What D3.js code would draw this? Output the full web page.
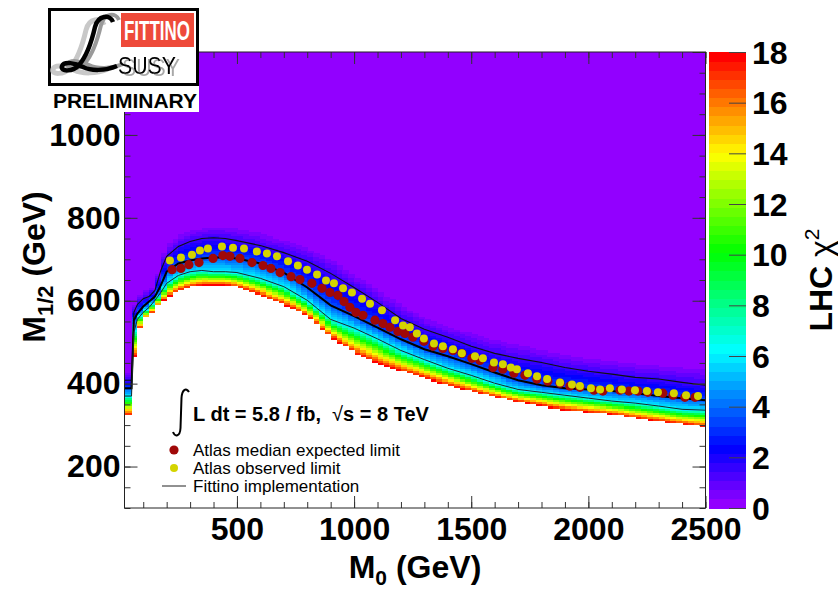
<!DOCTYPE html>
<html>
<head>
<meta charset="utf-8">
<title>LHC chi2 in the M0 - M1/2 plane</title>
<script src="https://cdn.jsdelivr.net/npm/d3@7"></script>
<style>
    body { margin: 0; background: white; }
    text { font-family: "Liberation Sans", Arial, Helvetica, sans-serif; }
</style>
</head>
<body>
<div id="chart"></div>
<script>
const m0Cols    = [20, 50, 60, 75, 100, 125, 150, 175, 200, 250, 300, 350, 400, 450, 500, 600, 700, 800, 900, 1000, 1100, 1200, 1300, 1400, 1500, 1600, 1700, 1800, 1900, 2000, 2100, 2200, 2300, 2400, 2500];
// M1/2 (GeV) where the chi2 crosses each level, one value per column
const hazeEdge  = [427, 427, 586, 605, 620, 625, 639, 692, 733, 755, 767, 774, 776, 776, 772, 762, 745, 726, 697, 661, 625, 589, 557, 538, 521, 504, 492, 480, 471, 461, 454, 447, 442, 437, 432];
const upperLine = [408, 408, 572, 591, 605, 610, 625, 673, 707, 731, 743, 750, 752, 750, 745, 733, 716, 695, 666, 632, 596, 557, 531, 512, 490, 473, 461, 451, 439, 430, 423, 415, 411, 403, 396];
const thickLine = [389, 389, 553, 569, 586, 598, 610, 637, 670, 690, 697, 702, 704, 704, 702, 690, 668, 632, 589, 563, 535, 507, 483, 466, 447, 427, 408, 396, 389, 386, 382, 377, 370, 365, 360];
const lowerLine = [370, 370, 524, 555, 572, 584, 601, 620, 642, 661, 670, 673, 670, 670, 668, 654, 634, 601, 555, 534, 508, 480, 458, 437, 420, 401, 386, 379, 372, 365, 358, 353, 346, 338, 336];
const redEdge   = [324, 324, 456, 516, 553, 562, 579, 596, 608, 622, 632, 637, 637, 637, 632, 613, 591, 562, 512, 473, 449, 430, 413, 396, 382, 367, 355, 346, 336, 331, 326, 317, 309, 302, 295];
const chiLevels = [0.36, 1.5, 3.5, 6, 18];

// Atlas median expected limit
const expM0  = [223, 261, 295, 338, 398, 440, 470, 513, 564, 611, 645, 684, 731, 769, 820, 863, 897, 931, 957, 982, 1008, 1038, 1089, 1123, 1153, 1187, 1217, 1251, 1298, 1337, 1379, 1422, 1460, 1503, 1537, 1593, 1635, 1682, 1729, 1780, 1827, 1879, 1921, 1964, 2024, 2062, 2135, 2173, 2212, 2254, 2318, 2361, 2412, 2455];
const expM12 = [675, 678, 687, 692, 702, 709, 707, 702, 692, 685, 678, 668, 658, 651, 642, 630, 620, 613, 598, 584, 572, 565, 553, 545, 536, 526, 521, 512, 502, 490, 485, 480, 473, 461, 456, 439, 435, 425, 420, 411, 406, 401, 394, 391, 384, 382, 384, 382, 382, 379, 377, 372, 367, 367];
// Atlas observed limit
const obsM0  = [214, 261, 308, 342, 376, 436, 483, 530, 585, 628, 671, 718, 760, 799, 842, 880, 914, 953, 991, 1034, 1068, 1119, 1175, 1209, 1238, 1268, 1298, 1341, 1379, 1422, 1460, 1516, 1550, 1597, 1635, 1669, 1695, 1742, 1781, 1824, 1879, 1930, 1964, 2011, 2050, 2092, 2143, 2199, 2250, 2297, 2365, 2417, 2468];
const obsM12 = [697, 704, 711, 721, 726, 731, 728, 726, 719, 714, 707, 695, 685, 675, 663, 649, 642, 630, 620, 605, 593, 577, 553, 540, 536, 521, 509, 497, 490, 483, 473, 466, 461, 451, 447, 439, 435, 425, 418, 411, 403, 398, 394, 389, 386, 389, 386, 384, 382, 379, 377, 372, 370];

const xTicks = [500, 1000, 1500, 2000, 2500];
const yTicks = [200, 400, 600, 800, 1000];
const zTicks = [0, 2, 4, 6, 8, 10, 12, 14, 16, 18];

const width = 838, height = 591;

const svg = d3.select("#chart")
    .append("svg")
    .attr("width", width)
    .attr("height", height);

const x = d3.scaleLinear().domain([20, 2500]).range([124.5, 705.5]);
const y = d3.scaleLinear().domain([100, 1200]).range([508, 52]);
const z = d3.scaleLinear().domain([0, 18]).range([508, 52]);

// ROOT "pretty" palette: 50 colours from violet to red
const nCol = 50;
const palette = d3.range(nCol).map(i => d3.hsl(280 - (i + 1) * 280 / nCol, 1, 0.5).formatHex());
const colorOf = v => palette[Math.max(0, Math.min(nCol - 1, Math.floor(v / 18 * nCol)))];

// plot background = chi2 ~ 0
svg.append("rect")
    .attr("x", x(20)).attr("y", y(1200))
    .attr("width", x(2500) - x(20)).attr("height", y(100) - y(1200))
    .attr("fill", palette[0]);

// build histogram cells from the band edges
const edgeScales = [hazeEdge, upperLine, thickLine, lowerLine, redEdge]
    .map(arr => d3.scaleLinear().domain(m0Cols).range(arr));
const binW = 25, binH = 5;
const cells = [];
const whites = [];
for (let a = 0; a < 2500; a += binW) {
    const c = Math.max(a + binW / 2, 20);
    const chi = d3.scaleLinear().domain(edgeScales.map(s => s(c))).range(chiLevels);
    let top = 100;
    for (let m = 1200 - binH; m >= 100; m -= binH) {
        const v = chi(m + binH / 2);
        if (v >= 18) { top = m + binH; break; }
        if (v >= chiLevels[0]) cells.push({a: a, m: m, v: v});
    }
    whites.push({a: a, top: top});
}

const colX = a => x(Math.max(a, 20));
const colW = a => x(a + binW) - colX(a) + 0.6;

const cellLayer = svg.append("g").attr("shape-rendering", "crispEdges");

cellLayer.append("g").selectAll("rect")
    .data(cells)
    .enter().append("rect")
    .attr("x", d => colX(d.a))
    .attr("y", d => y(d.m + binH))
    .attr("width", d => colW(d.a))
    .attr("height", y(100) - y(100 + binH) + 0.6)
    .attr("fill", d => colorOf(d.v));

cellLayer.append("g").selectAll("rect")
    .data(whites)
    .enter().append("rect")
    .attr("x", d => colX(d.a))
    .attr("y", d => y(d.top))
    .attr("width", d => colW(d.a))
    .attr("height", d => y(100) - y(d.top) + 1)
    .attr("fill", "white");

// Fittino contour lines
const contour = arr => d3.line()
    .x((d, i) => x(m0Cols[i]))
    .y(d => y(d))(arr);

svg.append("path").attr("d", contour(upperLine))
    .attr("fill", "none").attr("stroke", "#111").attr("stroke-width", 1.1);
svg.append("path").attr("d", contour(thickLine))
    .attr("fill", "none").attr("stroke", "#000").attr("stroke-width", 2);
svg.append("path").attr("d", contour(lowerLine))
    .attr("fill", "none").attr("stroke", "#1a2a2a").attr("stroke-width", 1);

// Atlas limits
svg.append("g").selectAll("circle")
    .data(expM0)
    .enter().append("circle")
    .attr("cx", d => x(d))
    .attr("cy", (d, i) => y(expM12[i]))
    .attr("r", 4.6)
    .attr("fill", "#a00808");

svg.append("g").selectAll("circle")
    .data(obsM0)
    .enter().append("circle")
    .attr("cx", d => x(d))
    .attr("cy", (d, i) => y(obsM12[i]))
    .attr("r", 4)
    .attr("fill", "#d4d400");

// axes: ticks pointing inwards like ROOT
const axisFont = g => g.selectAll("text")
    .style("font-size", "32px")
    .style("font-weight", "bold")
    .attr("fill", "black");

svg.append("g")
    .attr("transform", "translate(0,508)")
    .call(d3.axisBottom(x).tickValues(x.ticks(25)).tickSize(-6).tickSizeOuter(0).tickFormat(""))
    .call(g => g.select(".domain").remove());
svg.append("g")
    .attr("transform", "translate(0,508)")
    .call(d3.axisBottom(x).tickValues(xTicks).tickSize(-12).tickSizeOuter(0).tickPadding(9).tickFormat(d3.format("d")))
    .call(g => g.select(".domain").remove())
    .call(axisFont);

svg.append("g")
    .attr("transform", "translate(124.5,0)")
    .call(d3.axisLeft(y).tickValues(y.ticks(22)).tickSize(-6).tickSizeOuter(0).tickFormat(""))
    .call(g => g.select(".domain").remove());
svg.append("g")
    .attr("transform", "translate(124.5,0)")
    .call(d3.axisLeft(y).tickValues(yTicks.concat([1200])).tickSize(-13).tickSizeOuter(0).tickPadding(4)
        .tickFormat(d => yTicks.includes(d) ? d : ""))
    .call(g => g.select(".domain").remove())
    .call(axisFont);

// mirrored ticks on top and right
svg.append("g")
    .attr("transform", "translate(0,52)")
    .call(d3.axisTop(x).tickValues(x.ticks(25)).tickSize(-6).tickSizeOuter(0).tickFormat(""))
    .call(g => g.select(".domain").remove());
svg.append("g")
    .attr("transform", "translate(0,52)")
    .call(d3.axisTop(x).tickValues(xTicks).tickSize(-12).tickSizeOuter(0).tickFormat(""))
    .call(g => g.select(".domain").remove());
svg.append("g")
    .attr("transform", "translate(705.5,0)")
    .call(d3.axisRight(y).tickValues(y.ticks(22)).tickSize(-6).tickSizeOuter(0).tickFormat(""))
    .call(g => g.select(".domain").remove());
svg.append("g")
    .attr("transform", "translate(705.5,0)")
    .call(d3.axisRight(y).tickValues(yTicks.concat([1200])).tickSize(-13).tickSizeOuter(0).tickFormat(""))
    .call(g => g.select(".domain").remove());

svg.selectAll(".tick line").attr("stroke", "#333");

// frame
svg.append("rect")
    .attr("x", 124.5).attr("y", 52)
    .attr("width", 581).attr("height", 456)
    .attr("fill", "none").attr("stroke", "#222").attr("stroke-width", 1);

// axis titles
const xTitle = svg.append("text")
    .attr("x", 415).attr("y", 578)
    .attr("text-anchor", "middle")
    .style("font-size", "32px").style("font-weight", "bold");
xTitle.append("tspan").text("M");
xTitle.append("tspan").attr("dy", 7).style("font-size", "21px").text("0");
xTitle.append("tspan").attr("dy", -7).text(" (GeV)");

const yTitle = svg.append("text")
    .attr("transform", "translate(45,267) rotate(-90)")
    .attr("text-anchor", "middle")
    .style("font-size", "32px").style("font-weight", "bold");
yTitle.append("tspan").text("M");
yTitle.append("tspan").attr("dy", 8).style("font-size", "22px").text("1/2");
yTitle.append("tspan").attr("dy", -8).text(" (GeV)");

// colour bar
svg.append("g").attr("shape-rendering", "crispEdges").selectAll("rect")
    .data(palette)
    .enter().append("rect")
    .attr("x", 709)
    .attr("y", (d, i) => z((i + 1) * 18 / nCol))
    .attr("width", 37)
    .attr("height", z(0) - z(18 / nCol) + 0.6)
    .attr("fill", d => d);

svg.append("g")
    .attr("transform", "translate(746,0)")
    .call(d3.axisLeft(z).tickValues(zTicks).tickSize(17).tickSizeOuter(0).tickFormat(""))
    .call(g => g.select(".domain").remove())
    .call(g => g.selectAll(".tick line").attr("stroke", "#444").attr("x2", -17));

svg.append("g").selectAll("text")
    .data(zTicks)
    .enter().append("text")
    .attr("x", 752)
    .attr("y", d => z(d))
    .attr("dy", "0.36em")
    .style("font-size", "32px").style("font-weight", "bold")
    .text(d => d);

const zTitle = svg.append("text")
    .attr("transform", "translate(832,280) rotate(-90)")
    .attr("text-anchor", "middle")
    .style("font-size", "32px").style("font-weight", "bold");
zTitle.append("tspan").text("LHC ");
zTitle.append("tspan").style("font-weight", "normal").text("χ");
zTitle.append("tspan").attr("dy", -13).style("font-size", "21px").style("font-weight", "normal").text("2");

// legend
svg.append("path")
    .attr("d", "M189,392 C186,387 182,390 181.5,398 L180.5,428 C180,437 175,437 173,432")
    .attr("fill", "none").attr("stroke", "black").attr("stroke-width", 2);

const lumi = svg.append("text")
    .attr("x", 193).attr("y", 421)
    .style("font-size", "20px").style("font-weight", "bold")
    .style("white-space", "pre");
lumi.append("tspan").text("L dt = 5.8 / fb,  ");
lumi.append("tspan").style("font-weight", "normal").text("√");
lumi.append("tspan").text("s = 8 TeV");

const legendItems = [
    {label: "Atlas median expected limit", type: "dot", color: "#a00808", r: 4.6},
    {label: "Atlas observed limit", type: "dot", color: "#d4d400", r: 4},
    {label: "Fittino implementation", type: "line", color: "#222"}
];
const legend = svg.append("g")
    .selectAll("g")
    .data(legendItems)
    .enter().append("g")
    .attr("transform", (d, i) => "translate(0," + (450 + i * 18) + ")");

legend.filter(d => d.type === "dot").append("circle")
    .attr("cx", 174).attr("cy", 0).attr("r", d => d.r).attr("fill", d => d.color);
legend.filter(d => d.type === "line").append("line")
    .attr("x1", 162).attr("x2", 186).attr("y1", 0).attr("y2", 0)
    .attr("stroke", d => d.color).attr("stroke-width", 1);
legend.append("text")
    .attr("x", 193).attr("y", 5.5)
    .style("font-size", "17px")
    .text(d => d.label);

// Fittino logo
const defs = svg.append("defs");
const shadow = defs.append("filter").attr("id", "greyShadow")
    .attr("x", "-10%").attr("y", "-10%").attr("width", "130%").attr("height", "140%");
shadow.append("feFlood").attr("flood-color", "#a8a8a8").attr("result", "grey");
shadow.append("feComposite").attr("in", "grey").attr("in2", "SourceAlpha").attr("operator", "in").attr("result", "greyText");
shadow.append("feOffset").attr("in", "greyText").attr("dx", 4).attr("dy", 2).attr("result", "moved");
const merge = shadow.append("feMerge");
merge.append("feMergeNode").attr("in", "moved");
merge.append("feMergeNode").attr("in", "SourceGraphic");

const logo = svg.append("g");
logo.append("rect").attr("x", 0).attr("y", 0).attr("width", 199).attr("height", 112).attr("fill", "white");
logo.append("rect").attr("x", 49.5).attr("y", 9.5).attr("width", 148).attr("height", 75)
    .attr("fill", "white").attr("stroke", "black").attr("stroke-width", 3);
logo.append("rect").attr("x", 121).attr("y", 13).attr("width", 73).attr("height", 34).attr("fill", "#ee4a3a");
logo.append("text").attr("x", 157).attr("y", 40).attr("text-anchor", "middle")
    .attr("fill", "white").style("font-size", "28px").style("font-weight", "bold")
    .attr("textLength", 66).attr("lengthAdjust", "spacingAndGlyphs")
    .text("FITTINO");

const scriptL = "M113,22 C110,14 98,15 95,27 C92,40 86,57 79,65 C73,72 60,72 62,66 C64,61 75,63 83,67 C91,71 105,71 117,66";
logo.append("path").attr("d", scriptL).attr("transform", "translate(-9,3)")
    .attr("fill", "none").attr("stroke", "#c8c8c8").attr("stroke-width", 5);
logo.append("path").attr("d", scriptL).attr("transform", "translate(6,-2)")
    .attr("fill", "none").attr("stroke", "#9a9a9a").attr("stroke-width", 4);
logo.append("path").attr("d", scriptL)
    .attr("fill", "none").attr("stroke", "black").attr("stroke-width", 4.5);

logo.append("text").attr("x", 118).attr("y", 74).style("font-size", "24px")
    .attr("textLength", 58).attr("lengthAdjust", "spacingAndGlyphs")
    .attr("filter", "url(#greyShadow)")
    .attr("fill", "black").text("SUSY");

logo.append("text").attr("x", 53).attr("y", 108)
    .style("font-size", "21px").style("font-weight", "bold")
    .attr("textLength", 144).attr("lengthAdjust", "spacingAndGlyphs")
    .text("PRELIMINARY");
</script>
</body>
</html>
